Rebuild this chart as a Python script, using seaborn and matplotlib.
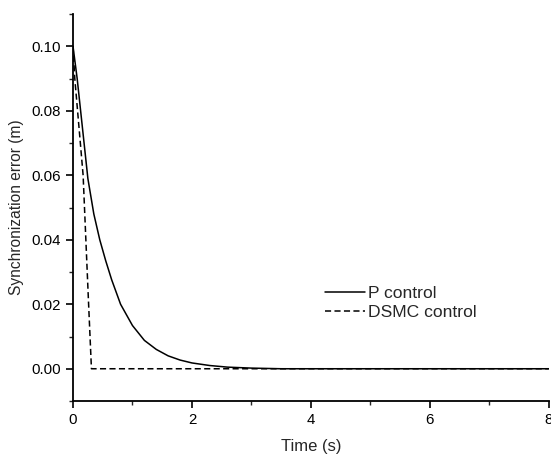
import matplotlib
matplotlib.use("Agg")
import matplotlib.pyplot as plt
from matplotlib.ticker import MultipleLocator, FormatStrFormatter
import seaborn as sns
import pandas as pd

# Data
p_time = [0.0, 0.07, 0.25, 0.35, 0.45, 0.55, 0.65, 0.80, 1.0, 1.2, 1.4, 1.6, 1.8, 2.0, 2.3, 2.6, 3.0, 3.5, 8.0]
p_error = [0.100, 0.090, 0.059, 0.048, 0.040, 0.0335, 0.0276, 0.020, 0.0134, 0.0088, 0.0060, 0.0040,
           0.0027, 0.0018, 0.0010, 0.0005, 0.0002, 0.0, 0.0]
d_time = [0.0, 0.03, 0.17, 0.26, 0.31, 8.0]
d_error = [0.100, 0.090, 0.060, 0.021, 0.0, 0.0]
series_names = ["P control", "DSMC control"]

df = pd.concat([
    pd.DataFrame({"t": p_time, "e": p_error, "series": series_names[0]}),
    pd.DataFrame({"t": d_time, "e": d_error, "series": series_names[1]}),
], ignore_index=True)

sns.set_style("ticks")
plt.rcParams["font.family"] = ["Liberation Sans", "DejaVu Sans"]

fig = plt.figure(figsize=(5.51, 4.55), dpi=100)
ax = fig.add_axes([0.1325, 0.1187, 0.8635, 0.8503])

sns.lineplot(data=df, x="t", y="e", hue="series", style="series",
             palette={series_names[0]: "black", series_names[1]: "black"},
             dashes={series_names[0]: "", series_names[1]: (4, 2.2)},
             linewidth=1.1, ax=ax, sort=False, estimator=None)

ax.set_xlim(0, 8)
ax.set_ylim(-0.01, 0.11)
ax.xaxis.set_major_locator(MultipleLocator(2))
ax.xaxis.set_minor_locator(MultipleLocator(1))
ax.yaxis.set_major_locator(MultipleLocator(0.02))
ax.yaxis.set_minor_locator(MultipleLocator(0.01))
ax.yaxis.set_major_formatter(FormatStrFormatter("%.2f"))

for s in ["top", "right"]:
    ax.spines[s].set_visible(False)
for s in ["left", "bottom"]:
    ax.spines[s].set_linewidth(1.3)
    ax.spines[s].set_color("black")

ax.tick_params(which="major", direction="out", length=5, width=1.2, labelsize=10.8,
               colors="black", pad=4)
ax.tick_params(which="minor", direction="out", length=3, width=1.0)

ax.set_xlabel("Time (s)", fontsize=12, labelpad=8)
ax.set_ylabel("Synchronization error (m)", fontsize=11.2, labelpad=5)

leg = ax.legend(loc="upper left", bbox_to_anchor=(0.53, 0.298), frameon=False,
                borderaxespad=0, borderpad=0,
                fontsize=12.6, handlelength=2.3, handletextpad=0.15, labelspacing=0.2)
leg.set_title(None)

fig.savefig("out.png", dpi=100)
